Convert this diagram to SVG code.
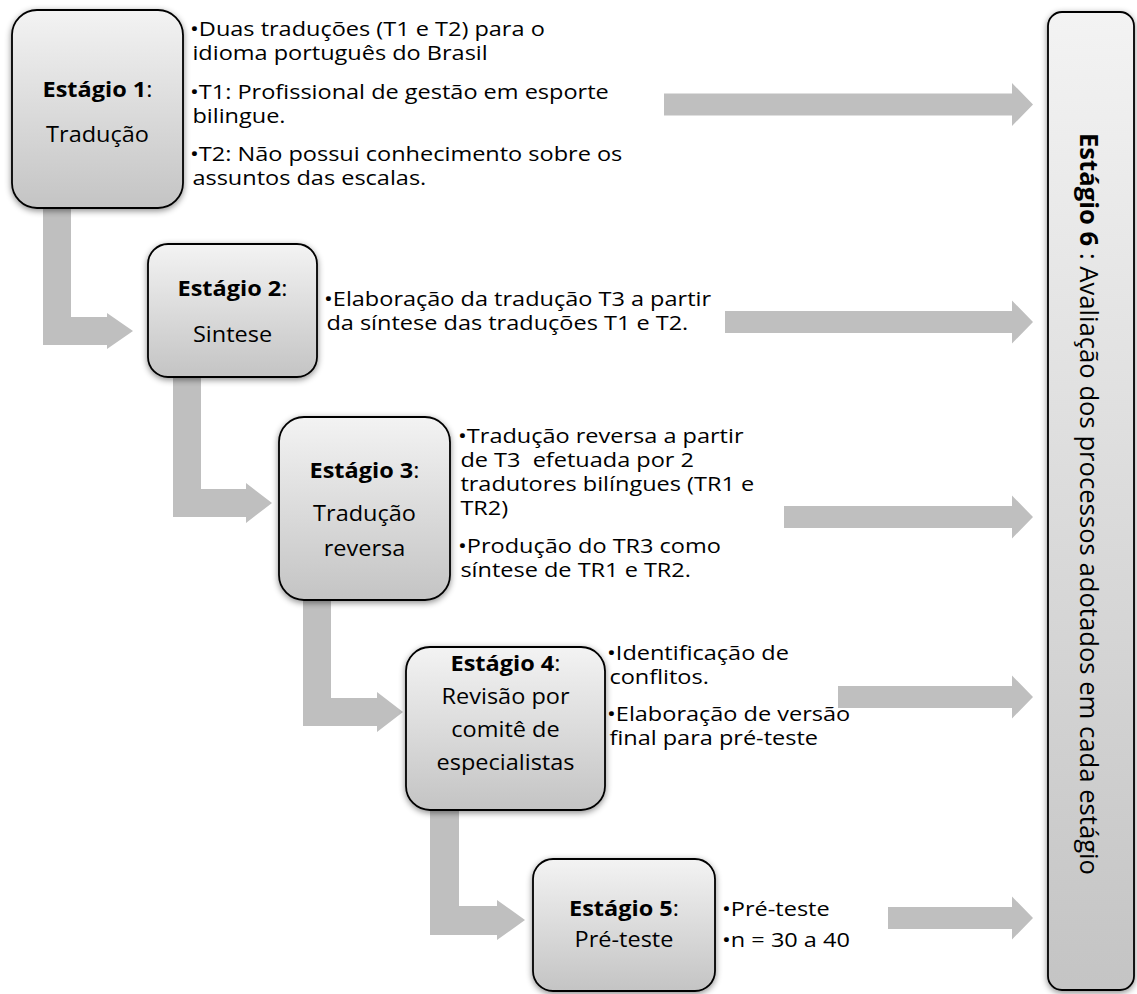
<svg xmlns="http://www.w3.org/2000/svg" width="1137" height="994" viewBox="0 0 1137 994">
  <style>
    .box { stroke: #000; stroke-width: 1.8; fill: url(#boxFill); filter: url(#soft); }
    .arrow { fill: #bfbfbf; }
    .t { font-family: "Open Sans", "Liberation Sans", sans-serif; font-size: 19.6px; fill: #000; }
    .title { font-family: "Open Sans", "Liberation Sans", sans-serif; font-size: 21px; fill: #000; text-anchor: middle; }
    .b { font-weight: bold; }
    .side { font-family: "Open Sans", "Liberation Sans", sans-serif; font-size: 25.7px; fill: #000; text-anchor: middle; }
  </style>
  <defs>
    <linearGradient id="boxFill" x1="0" y1="0" x2="0" y2="1">
      <stop offset="0" stop-color="#f3f3f3"/>
      <stop offset="1" stop-color="#c4c4c4"/>
    </linearGradient>
    <filter id="soft" x="-20%" y="-20%" width="140%" height="140%">
      <feDropShadow dx="0" dy="2" stdDeviation="3" flood-color="#000" flood-opacity="0.45"/>
    </filter>
  </defs>

  <rect width="1137" height="994" fill="#fff"/>

  <!-- flow connectors: bent arrows between stages, straight arrows to stage 6 -->
  <g id="connectors">
    <path class="arrow" d="M43 200 H71 V317 H107 V313 L133 331 L107 349 V345 H43 Z"/>
    <path class="arrow" d="M173 370 H201 V489 H246 V483 L272 503 L246 523 V517 H173 Z"/>
    <path class="arrow" d="M303 592 H331 V698 H377 V692 L403 712 L377 732 V726 H303 Z"/>
    <path class="arrow" d="M430 802 H459 V906 H497 V900 L525 920 L497 940 V935 H430 Z"/>
    <path class="arrow" d="M664 93.5 H1012 V83 L1033 104.5 L1012 126 V115.5 H664 Z"/>
    <path class="arrow" d="M725 311 H1012 V300.5 L1033 322 L1012 343.5 V333 H725 Z"/>
    <path class="arrow" d="M784 506 H1012 V495.5 L1033 517 L1012 538.5 V528 H784 Z"/>
    <path class="arrow" d="M838 686 H1012 V675.5 L1033 697 L1012 718.5 V708 H838 Z"/>
    <path class="arrow" d="M888 907 H1012 V896.5 L1033 918 L1012 939.5 V929 H888 Z"/>
  </g>

  <!-- Stage 1 -->
  <g id="stage1">
    <rect class="box" x="12" y="10" width="171" height="198" rx="25"/>
    <g transform="translate(97.5 0) scale(1.12 1)">
      <text class="title" x="0" y="97"><tspan class="b">Estágio 1</tspan>:</text>
      <text class="title" x="0" y="142">Tradução</text>
    </g>
    <g transform="translate(190 0) scale(1.2 1)">
      <text class="t" x="0" y="36">•Duas traduções (T1 e T2) para o</text>
      <text class="t" x="2" y="60">idioma português do Brasil</text>
      <text class="t" x="0" y="99">•T1: Profissional de gestão em esporte</text>
      <text class="t" x="2" y="123">bilingue.</text>
      <text class="t" x="0" y="161">•T2: Não possui conhecimento sobre os</text>
      <text class="t" x="2" y="185">assuntos das escalas.</text>
    </g>
  </g>

  <!-- Stage 2 -->
  <g id="stage2">
    <rect class="box" x="148" y="244" width="169" height="133" rx="20"/>
    <g transform="translate(232.5 0) scale(1.12 1)">
      <text class="title" x="0" y="296"><tspan class="b">Estágio 2</tspan>:</text>
      <text class="title" x="0" y="342">Sintese</text>
    </g>
    <g transform="translate(324 0) scale(1.2 1)">
      <text class="t" x="0" y="306">•Elaboração da tradução T3 a partir</text>
      <text class="t" x="2" y="330">da síntese das traduções T1 e T2.</text>
    </g>
  </g>

  <!-- Stage 3 -->
  <g id="stage3">
    <rect class="box" x="279" y="417" width="171" height="183" rx="25"/>
    <g transform="translate(364.5 0) scale(1.12 1)">
      <text class="title" x="0" y="478"><tspan class="b">Estágio 3</tspan>:</text>
      <text class="title" x="0" y="521">Tradução</text>
      <text class="title" x="0" y="556">reversa</text>
    </g>
    <g transform="translate(458 0) scale(1.2 1)">
      <text class="t" x="0" y="443">•Tradução reversa a partir</text>
      <text class="t" x="2" y="467" xml:space="preserve">de T3  efetuada por 2</text>
      <text class="t" x="2" y="491">tradutores bilíngues (TR1 e</text>
      <text class="t" x="2" y="515">TR2)</text>
      <text class="t" x="0" y="553">•Produção do TR3 como</text>
      <text class="t" x="2" y="577">síntese de TR1 e TR2.</text>
    </g>
  </g>

  <!-- Stage 4 -->
  <g id="stage4">
    <rect class="box" x="406" y="647" width="199" height="163" rx="24"/>
    <g transform="translate(505.5 0) scale(1.12 1)">
      <text class="title" x="0" y="671"><tspan class="b">Estágio 4</tspan>:</text>
      <text class="title" x="0" y="704">Revisão por</text>
      <text class="title" x="0" y="737">comitê de</text>
      <text class="title" x="0" y="770">especialistas</text>
    </g>
    <g transform="translate(607 0) scale(1.2 1)">
      <text class="t" x="0" y="660">•Identificação de</text>
      <text class="t" x="2" y="684">conflitos.</text>
      <text class="t" x="0" y="721">•Elaboração de versão</text>
      <text class="t" x="2" y="745">final para pré-teste</text>
    </g>
  </g>

  <!-- Stage 5 -->
  <g id="stage5">
    <rect class="box" x="533" y="859" width="182" height="132" rx="20"/>
    <g transform="translate(624 0) scale(1.12 1)">
      <text class="title" x="0" y="916"><tspan class="b">Estágio 5</tspan>:</text>
      <text class="title" x="0" y="947">Pré-teste</text>
    </g>
    <g transform="translate(722 0) scale(1.2 1)">
      <text class="t" x="0" y="916">•Pré-teste</text>
      <text class="t" x="0" y="947">•n = 30 a 40</text>
    </g>
  </g>

  <!-- Stage 6: tall side panel with rotated caption -->
  <g id="stage6">
    <rect class="box" x="1048" y="12" width="86" height="978" rx="14"/>
    <text class="side" transform="translate(1080 504) rotate(90)" x="0" y="0" textLength="742" lengthAdjust="spacingAndGlyphs"><tspan class="b">Estágio 6</tspan> : Avaliação dos processos adotados em cada estágio</text>
  </g>
</svg>
